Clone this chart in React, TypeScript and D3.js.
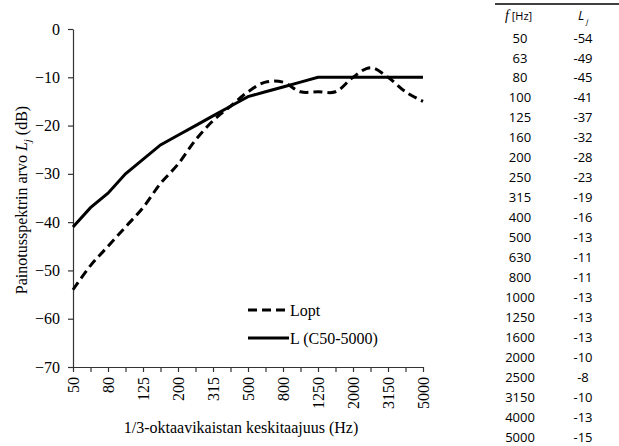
import React, { useEffect, useRef } from 'react';
import * as d3 from 'd3';

// 1/3-octave band centre frequencies (Hz)
const freqs = [50, 63, 80, 100, 125, 160, 200, 250, 315, 400, 500, 630, 800, 1000, 1250, 1600, 2000, 2500, 3150, 4000, 5000];
const labeledFreqs = [50, 80, 125, 200, 315, 500, 800, 1250, 2000, 3150, 5000];
const lopt = [-54, -49, -45, -41, -37, -32, -28, -23, -19, -16, -13, -11, -11, -13, -13, -13, -10, -8, -10, -13, -15];
const lC50 = [-41, -37, -34, -30, -27, -24, -22, -20, -18, -16, -14, -13, -12, -11, -10, -10, -10, -10, -10, -10, -10];
const yTicks = [0, -10, -20, -30, -40, -50, -60, -70];
const seriesNames = ['Lopt', 'L (C50-5000)'];

const W = 619, H = 446;

const App = () => {
  const ref = useRef<SVGSVGElement>(null);

  useEffect(() => {
    const svg = d3.select(ref.current);
    svg.selectAll('*').remove();

    const serif = '"Liberation Serif", "Times New Roman", serif';
    const sans = '"Open Sans", "Liberation Sans", sans-serif';

    const x = d3.scalePoint<number>().domain(freqs).range([73, 423]);
    const y = d3.scaleLinear().domain([-70, 0]).range([367, 29]);

    // y axis
    const yAxis = svg.append('g')
      .attr('transform', `translate(${x(50)},0)`)
      .call(d3.axisLeft(y).tickValues(yTicks).tickSize(5).tickSizeOuter(0).tickPadding(8).tickFormat(d3.format('d')));
    yAxis.selectAll('text').attr('font-family', serif).attr('font-size', 16).attr('fill', '#000');

    // x axis
    const xAxis = svg.append('g')
      .attr('transform', `translate(0,${y(-70)})`)
      .call(d3.axisBottom(x).tickSize(5).tickSizeOuter(0)
        .tickFormat(d => (labeledFreqs.includes(d as number) ? String(d) : '')));
    xAxis.selectAll('text')
      .attr('font-family', serif).attr('font-size', 16).attr('fill', '#000')
      .attr('transform', 'rotate(-90)')
      .attr('text-anchor', 'end')
      .attr('x', -10).attr('y', 0).attr('dy', '0.35em');

    svg.selectAll('.domain, .tick line').attr('stroke', '#333').attr('stroke-width', 1.2);

    // series
    const solid = d3.line<number>().x((d, i) => x(freqs[i])!).y(d => y(d));
    const smooth = d3.line<number>().x((d, i) => x(freqs[i])!).y(d => y(d)).curve(d3.curveCatmullRom);

    svg.append('path').attr('d', smooth(lopt)).attr('fill', 'none')
      .attr('stroke', '#000').attr('stroke-width', 3).attr('stroke-dasharray', '9,5');
    svg.append('path').attr('d', solid(lC50)).attr('fill', 'none')
      .attr('stroke', '#000').attr('stroke-width', 3);

    // legend
    const legend = svg.append('g');
    seriesNames.forEach((name, i) => {
      const ly = 310 + i * 28;
      legend.append('line').attr('x1', 248).attr('x2', 289).attr('y1', ly).attr('y2', ly)
        .attr('stroke', '#000').attr('stroke-width', 3)
        .attr('stroke-dasharray', i === 0 ? '9,5' : null);
      legend.append('text').attr('x', 290).attr('y', ly).attr('dy', '0.35em')
        .attr('font-family', serif).attr('font-size', 16).text(name);
    });

    // axis titles
    svg.append('text').attr('x', 241).attr('y', 433)
      .attr('text-anchor', 'middle').attr('font-family', serif).attr('font-size', 16)
      .text('1/3-oktaavikaistan keskitaajuus (Hz)');

    const yt = svg.append('text')
      .attr('transform', `translate(27,200) rotate(-90)`)
      .attr('text-anchor', 'middle').attr('font-family', serif).attr('font-size', 16);
    yt.append('tspan').text('Painotusspektrin arvo ');
    yt.append('tspan').attr('font-style', 'italic').text('L');
    yt.append('tspan').attr('font-style', 'italic').attr('font-size', 11).attr('dy', 4).text('j');
    yt.append('tspan').attr('dy', -4).text(' (dB)');

    // table
    const table = svg.append('g').attr('font-family', sans).attr('font-size', 13).attr('fill', '#000');
    table.append('line').attr('x1', 495).attr('x2', 619).attr('y1', 4).attr('y2', 4)
      .attr('stroke', '#000').attr('stroke-width', 1.5);
    const h1 = table.append('text').attr('x', 505).attr('y', 15).attr('dy', '0.35em');
    h1.append('tspan').attr('font-style', 'italic').attr('font-family', serif).attr('font-size', 14).text('f');
    h1.append('tspan').attr('font-size', 11).text(' [Hz]');
    const h2 = table.append('text').attr('x', 578).attr('y', 15).attr('dy', '0.35em');
    h2.append('tspan').attr('font-style', 'italic').text('L');
    h2.append('tspan').attr('font-size', 8).attr('font-style', 'italic').attr('dx', 2).attr('dy', 4).text('j');

    const rowY = d3.scaleLinear().domain([0, freqs.length - 1]).range([38, 437]);
    table.selectAll('text.f').data(freqs).join('text').attr('class', 'f')
      .attr('x', 520).attr('y', (d, i) => rowY(i)).attr('dy', '0.35em')
      .attr('text-anchor', 'middle').text(d => d);
    table.selectAll('text.l').data(lopt).join('text').attr('class', 'l')
      .attr('x', 583).attr('y', (d, i) => rowY(i)).attr('dy', '0.35em')
      .attr('text-anchor', 'middle').text(d => d);
  }, []);

  return (
    <svg ref={ref} width={W} height={H}
      style={{ position: 'absolute', left: 0, top: 0, background: '#fff' }} />
  );
};

export default App;
